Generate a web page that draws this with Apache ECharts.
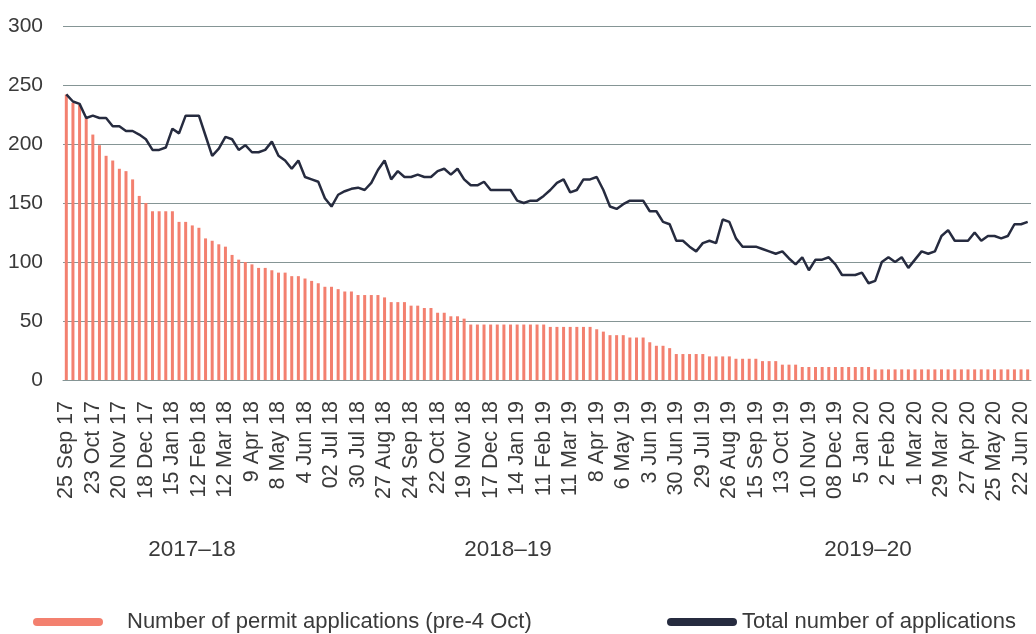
<!DOCTYPE html>
<html>
<head>
    <meta charset="utf-8">
    <title>Permit applications</title>
    <script src="https://cdn.jsdelivr.net/npm/echarts@6/dist/echarts.min.js"></script>
</head>
<body style="margin:0">
<div id="main" style="width:1036px;height:634px;"></div>
<script type="text/javascript">

    /* data, one value per week ===================== */
    var tickLabels = ['25 Sep 17', '23 Oct 17', '20 Nov 17', '18 Dec 17', '15 Jan 18', '12 Feb 18',
        '12 Mar 18', '9 Apr 18', '8 May 18', '4 Jun 18', '02 Jul 18', '30 Jul 18', '27 Aug 18',
        '24 Sep 18', '22 Oct 18', '19 Nov 18', '17 Dec 18', '14 Jan 19', '11 Feb 19', '11 Mar 19',
        '8 Apr 19', '6 May 19', '3 Jun 19', '30 Jun 19', '29 Jul 19', '26 Aug 19', '15 Sep 19',
        '13 Oct 19', '10 Nov 19', '08 Dec 19', '5 Jan 20', '2 Feb 20', '1 Mar 20', '29 Mar 20',
        '27 Apr 20', '25 May 20', '22 Jun 20'];

    var yearLabels = ['2017–18', '2018–19', '2019–20'];

    var permitApps = [242, 235, 233, 222, 208, 199, 190, 186, 179, 177,
        170, 156, 150, 143, 143, 143, 143, 134, 134, 131,
        129, 120, 118, 115, 113, 106, 102, 100, 98, 95,
        95, 93, 91, 91, 88, 88, 86, 84, 82, 79,
        79, 77, 75, 75, 72, 72, 72, 72, 70, 66,
        66, 66, 63, 63, 61, 61, 57, 57, 54, 54,
        52, 47, 47, 47, 47, 47, 47, 47, 47, 47,
        47, 47, 47, 45, 45, 45, 45, 45, 45, 45,
        43, 41, 38, 38, 38, 36, 36, 36, 32, 29,
        29, 27, 22, 22, 22, 22, 22, 20, 20, 20,
        20, 18, 18, 18, 18, 16, 16, 16, 13, 13,
        13, 11, 11, 11, 11, 11, 11, 11, 11, 11,
        11, 11, 9, 9, 9, 9, 9, 9, 9, 9,
        9, 9, 9, 9, 9, 9, 9, 9, 9, 9,
        9, 9, 9, 9, 9, 9];

    var totalApps = [242, 236, 234, 222, 224, 222, 222, 215, 215, 211,
        211, 208, 204, 195, 195, 197, 213, 209, 224, 224,
        224, 207, 190, 196, 206, 204, 195, 199, 193, 193,
        195, 202, 190, 186, 179, 186, 172, 170, 168, 154,
        147, 157, 160, 162, 163, 161, 167, 178, 186, 170,
        177, 172, 172, 174, 172, 172, 177, 179, 174, 179,
        170, 165, 165, 168, 161, 161, 161, 161, 152, 150,
        152, 152, 156, 161, 167, 170, 159, 161, 170, 170,
        172, 161, 147, 145, 149, 152, 152, 152, 143, 143,
        134, 132, 118, 118, 113, 109, 116, 118, 116, 136,
        134, 120, 113, 113, 113, 111, 109, 107, 109, 103,
        98, 104, 93, 102, 102, 104, 98, 89, 89, 89,
        91, 82, 84, 100, 104, 100, 104, 95, 102, 109,
        107, 109, 122, 127, 118, 118, 118, 125, 118, 122,
        122, 120, 122, 132, 132, 134];

    // every 4th week carries a date label
    var weeks = [];
    for (var i = 0; i < totalApps.length; i++) {
        weeks.push(i % 4 === 0 ? tickLabels[i / 4] : 'w' + i);
    }

    var font = 'Liberation Sans, Arial, sans-serif';
    var textColor = '#3a3a3a';
    var gridColor = '#859595';
    var pill = 'path://M4,0L66,0A4,4,0,0,1,66,8L4,8A4,4,0,0,1,4,0Z';

    var myChart = echarts.init(document.getElementById('main'));

    myChart.setOption({
        animation: false,
        textStyle: {fontFamily: font},
        grid: {left: 63, right: 5, top: 26, bottom: 254},
        xAxis: {
            type: 'category',
            data: weeks,
            axisLine: {lineStyle: {color: gridColor, width: 1}},
            axisTick: {show: false},
            axisLabel: {
                rotate: 90,
                margin: 21,
                fontSize: 21.5,
                color: textColor,
                fontFamily: font,
                interval: function (idx) { return idx % 4 === 0; }
            }
        },
        yAxis: {
            type: 'value',
            min: 0,
            max: 300,
            interval: 50,
            axisLine: {show: false},
            axisTick: {show: false},
            splitLine: {lineStyle: {color: gridColor, width: 1}},
            axisLabel: {
                margin: 20,
                fontSize: 21,
                color: textColor,
                fontFamily: font,
                verticalAlign: 'middle',
                padding: [0, 0, 15, 0]
            }
        },
        legend: [
            {
                data: ['Number of permit applications (pre-4 Oct)'],
                left: 33,
                top: 611,
                padding: 0,
                icon: pill,
                itemWidth: 74,
                itemHeight: 8,
                textStyle: {fontSize: 22, color: textColor, fontFamily: font, padding: [0, 0, 0, 17]}
            },
            {
                data: ['Total number of applications'],
                left: 667,
                top: 611,
                padding: 0,
                icon: pill,
                itemWidth: 70,
                itemHeight: 8,
                textStyle: {fontSize: 22, color: textColor, fontFamily: font}
            }
        ],
        graphic: [
            {type: 'text', x: 192, y: 550, style: {text: yearLabels[0], fontSize: 22.5, fontFamily: font, fill: textColor, align: 'center', verticalAlign: 'middle'}},
            {type: 'text', x: 508, y: 550, style: {text: yearLabels[1], fontSize: 22.5, fontFamily: font, fill: textColor, align: 'center', verticalAlign: 'middle'}},
            {type: 'text', x: 868, y: 550, style: {text: yearLabels[2], fontSize: 22.5, fontFamily: font, fill: textColor, align: 'center', verticalAlign: 'middle'}}
        ],
        series: [
            {
                name: 'Number of permit applications (pre-4 Oct)',
                type: 'bar',
                data: permitApps,
                barWidth: 3,
                itemStyle: {color: '#f3806f'}
            },
            {
                name: 'Total number of applications',
                type: 'line',
                data: totalApps,
                symbol: 'none',
                color: '#262b3f',
                lineStyle: {color: '#262b3f', width: 2.5},
                itemStyle: {color: '#262b3f'}
            }
        ]
    });

</script>
</body>
</html>
